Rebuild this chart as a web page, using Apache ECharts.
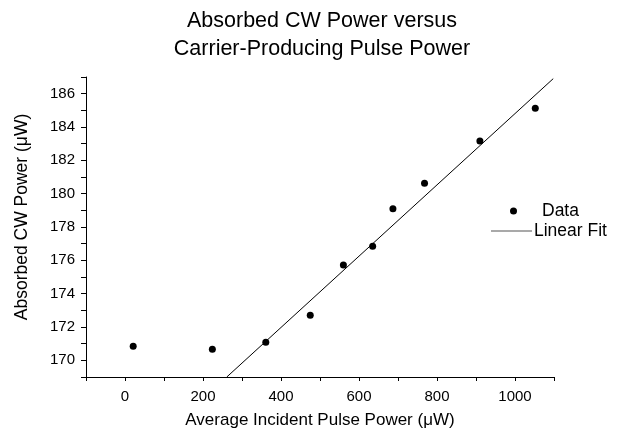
<!DOCTYPE html>
<html>
<head>
<meta charset="utf-8">
<script src="https://cdn.jsdelivr.net/npm/echarts@6/dist/echarts.min.js"></script>
<style>
  html, body { margin: 0; padding: 0; background: #fff; }
  #chart { width: 618px; height: 429px; }
</style>
</head>
<body>
<div id="chart"></div>
<script>
// measured points
var pulsePower = [21, 224, 361, 475, 560, 635, 687, 768, 910, 1052];
var cwPower = [170.84, 170.66, 171.08, 172.7, 175.72, 176.84, 179.1, 180.62, 183.16, 185.12];
// linear fit end points
var fitX = [261, 1098];
var fitY = [169.0, 186.9];

var font = 'Liberation Sans, Arial, sans-serif';

var chart = echarts.init(document.getElementById('chart'));
chart.setOption({
  animation: false,
  backgroundColor: '#fff',
  textStyle: { fontFamily: font },
  title: {
    text: 'Absorbed CW Power versus\nCarrier-Producing Pulse Power',
    left: 317,
    top: 2,
    textAlign: 'center',
    textStyle: { fontFamily: font, fontSize: 21.5, lineHeight: 28, fontWeight: 'normal', color: '#000' }
  },
  grid: { left: 86, right: 64, top: 77, bottom: 52, containLabel: false, outerBoundsMode: 'none' },
  legend: [{
    data: ['Data'],
    left: 505, top: 197,
    icon: 'circle', itemWidth: 47, itemHeight: 7,
    textStyle: { fontFamily: font, fontSize: 17.5, color: '#000' }
  }, {
    data: ['Linear Fit'],
    left: 486, top: 217,
    icon: 'rect', itemWidth: 41, itemHeight: 1,
    itemStyle: { color: '#555' },
    textStyle: { fontFamily: font, fontSize: 17.5, color: '#000', padding: [0, 0, 0, -3] }
  }],
  xAxis: {
    type: 'value',
    min: -100, max: 1100, interval: 100,
    name: 'Average Incident Pulse Power (μW)',
    nameLocation: 'middle', nameGap: 35,
    nameTextStyle: { fontFamily: font, fontSize: 17, color: '#000' },
    axisLine: { onZero: false, lineStyle: { color: '#000', width: 1 } },
    axisTick: { length: 4, lineStyle: { color: '#000' } },
    axisLabel: {
      margin: 12, fontSize: 15, color: '#000', fontFamily: font,
      formatter: function (v) { return v % 200 === 0 ? String(v) : ''; }
    },
    splitLine: { show: false }
  },
  yAxis: {
    type: 'value',
    min: 169, max: 187, interval: 1,
    name: 'Absorbed CW Power (μW)',
    nameLocation: 'middle', nameGap: 55,
    nameTextStyle: { fontFamily: font, fontSize: 17.5, color: '#000', padding: [0, 0, 0, 20] },
    axisLine: { show: true, onZero: false, lineStyle: { color: '#000', width: 1 } },
    axisTick: { show: true, length: 5, lineStyle: { color: '#000' } },
    axisLabel: {
      margin: 11, fontSize: 15, color: '#000', fontFamily: font,
      formatter: function (v) { return v % 2 === 0 ? String(v) : ''; }
    },
    splitLine: { show: false }
  },
  series: [{
    name: 'Data',
    type: 'scatter',
    symbol: 'circle',
    symbolSize: 7,
    itemStyle: { color: '#000', opacity: 1 },
    data: pulsePower.map(function (x, i) { return [x, cwPower[i]]; })
  }, {
    name: 'Linear Fit',
    type: 'line',
    showSymbol: false,
    clip: true,
    lineStyle: { color: '#000', width: 1 },
    itemStyle: { color: '#555' },
    data: fitX.map(function (x, i) { return [x, fitY[i]]; })
  }]
});
</script>
</body>
</html>
